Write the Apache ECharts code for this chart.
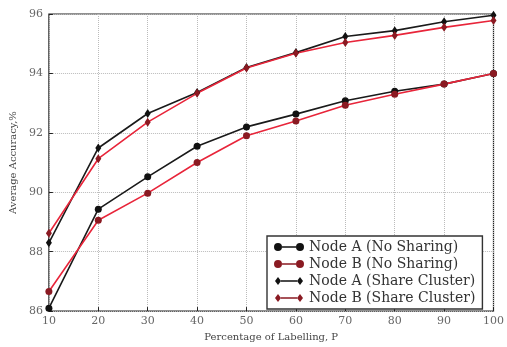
<!DOCTYPE html>
<html>
<head>
<meta charset="utf-8">
<script src="https://cdn.jsdelivr.net/npm/echarts@6/dist/echarts.min.js"></script>
<style>
  html, body { margin: 0; padding: 0; background: #fff; }
  #chart { width: 507px; height: 347px; }
</style>
</head>
<body>
<div id="chart"></div>
<script>
// percentage of labelling
var labelling = [10, 20, 30, 40, 50, 60, 70, 80, 90, 100];

var nodeANoSharing = [86.1, 89.43, 90.52, 91.55, 92.2, 92.63, 93.08, 93.4, 93.64, 94.0];
var nodeBNoSharing = [86.66, 89.06, 89.97, 91.0, 91.9, 92.4, 92.93, 93.3, 93.64, 94.0];
var nodeAShare = [88.3, 91.49, 92.65, 93.36, 94.2, 94.7, 95.24, 95.44, 95.74, 95.96];
var nodeBShare = [88.62, 91.13, 92.36, 93.33, 94.18, 94.68, 95.04, 95.28, 95.55, 95.78];

var serif = 'DejaVu Serif';

var circleIcon = 'path://M0,4a4,4 0 1,0 8,0a4,4 0 1,0 -8,0Z M8,3.3L22,3.3L22,4.7L8,4.7Z M22,4a4,4 0 1,0 8,0a4,4 0 1,0 -8,0Z';
var diamondIcon = 'path://M1,4L4,0L7,4L4,8Z M7,3.3L23,3.3L23,4.7L7,4.7Z M23,4L26,0L29,4L26,8Z';

function pairs(vals) {
  return labelling.map(function (x, i) { return [x, vals[i]]; });
}

function makeSeries(name, vals, lineColor, markColor, symbol, size) {
  return {
    name: name,
    type: 'line',
    data: pairs(vals),
    symbol: symbol,
    symbolSize: size,
    lineStyle: {color: lineColor, width: 1.6},
    itemStyle: {color: markColor, borderColor: markColor, borderWidth: 0},
    animation: false
  };
}

var chart = echarts.init(document.getElementById('chart'));

var option = {
  backgroundColor: '#fff',
  grid: {
    left: 45, right: 13, top: 14, bottom: 30,
    show: true, borderColor: '#222', borderWidth: 1.2
  },
  xAxis: {
    type: 'value',
    min: 10, max: 100, interval: 10,
    name: 'Percentage of Labelling, P',
    nameLocation: 'middle',
    nameGap: 19,
    nameTextStyle: {fontFamily: serif, fontSize: 10, color: '#444'},
    axisLine: {show: false},
    axisTick: {inside: true, length: 4, lineStyle: {color: '#222'}},
    axisLabel: {fontFamily: serif, fontSize: 11, color: '#666', margin: 5},
    splitLine: {lineStyle: {color: '#bbb', type: 'dotted', width: 1}}
  },
  yAxis: {
    type: 'value',
    min: 86, max: 96, interval: 2,
    name: 'Average Accuracy,%',
    nameLocation: 'middle',
    nameGap: 30,
    nameTextStyle: {fontFamily: serif, fontSize: 10, color: '#444'},
    axisLine: {show: false},
    axisTick: {show: true, inside: true, length: 4, lineStyle: {color: '#222'}},
    axisLabel: {fontFamily: serif, fontSize: 11, color: '#666', margin: 6},
    splitLine: {lineStyle: {color: '#bbb', type: 'dotted', width: 1}}
  },
  legend: {
    orient: 'vertical',
    left: 267, top: 236,
    padding: [4, 7, 4, 7],
    itemGap: 3,
    itemWidth: 30, itemHeight: 8,
    backgroundColor: '#fff',
    borderColor: '#333',
    borderWidth: 1.4,
    textStyle: {fontFamily: serif, fontSize: 14, color: '#333'},
    data: [
      {name: 'Node A (No Sharing)', icon: circleIcon},
      {name: 'Node B (No Sharing)', icon: circleIcon},
      {name: 'Node A (Share Cluster)', icon: diamondIcon},
      {name: 'Node B (Share Cluster)', icon: diamondIcon}
    ]
  },
  series: [
    makeSeries('Node A (No Sharing)', nodeANoSharing, '#1a1a1a', '#111', 'circle', 7),
    makeSeries('Node B (No Sharing)', nodeBNoSharing, '#e8253a', '#8a1a22', 'circle', 7),
    makeSeries('Node A (Share Cluster)', nodeAShare, '#1a1a1a', '#111', 'diamond', [6, 9]),
    makeSeries('Node B (Share Cluster)', nodeBShare, '#e8253a', '#8a1a22', 'diamond', [6, 9])
  ]
};

chart.setOption(option);
</script>
</body>
</html>
